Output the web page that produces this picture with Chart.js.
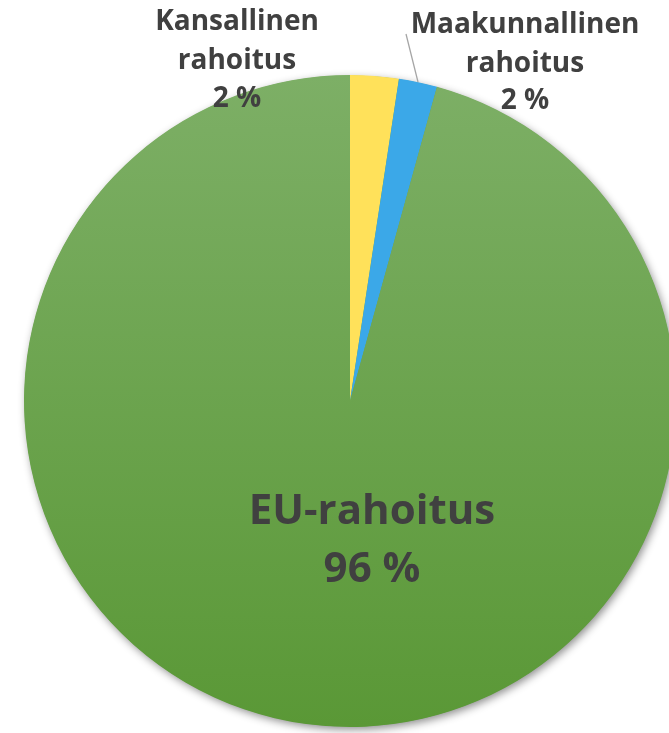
<!DOCTYPE html>
<html>
<head>
<meta charset="utf-8">
<script src="https://cdn.jsdelivr.net/npm/chart.js@4/dist/chart.umd.min.js"></script>
<style>
html,body{margin:0;padding:0;background:#fff;overflow:hidden;}
#wrap{position:relative;width:700px;height:733px;}
</style>
</head>
<body>
<div id="wrap"><canvas id="c"></canvas></div>
<script>
const categories = ["Kansallinen rahoitus", "Maakunnallinen rahoitus", "EU-rahoitus"];
const values = [2.4, 1.9, 95.7];
const percentLabels = ["2 %", "2 %", "96 %"];
const colors = ["#FFE15A", "#3BA8E8", null];

const textColor = "#404040";
const FONT = "'Open Sans', Lato, sans-serif";

const shadowPlugin = {
  id: 'shadowPlugin',
  beforeDatasetsDraw(chart) {
    const arc = chart.getDatasetMeta(0).data[0];
    if (!arc) return;
    const ctx = chart.ctx;
    ctx.save();
    ctx.shadowColor = 'rgba(0,0,0,0.45)';
    ctx.shadowBlur = 9;
    ctx.shadowOffsetX = 2;
    ctx.shadowOffsetY = 3;
    ctx.fillStyle = '#6aa34b';
    ctx.beginPath();
    ctx.arc(arc.x, arc.y, arc.outerRadius - 0.5, 0, Math.PI * 2);
    ctx.fill();
    ctx.restore();
  }
};

const labelPlugin = {
  id: 'labelPlugin',
  afterDatasetsDraw(chart) {
    const meta = chart.getDatasetMeta(0);
    const a0 = meta.data[0];
    const cx = a0.x, cy = a0.y;
    const ctx = chart.ctx;
    ctx.save();
    ctx.fillStyle = textColor;
    ctx.textAlign = 'center';
    ctx.textBaseline = 'middle';
    ctx.strokeStyle = '#A6A6A6';
    ctx.lineWidth = 1.3;
    ctx.beginPath();
    ctx.moveTo(cx + 56, cy - 367);
    ctx.lineTo(cx + 68, cy - 319);
    ctx.stroke();

    const lines = (cat) => cat.split(' ');
    ctx.font = "bold 28px " + FONT;
    let l0 = lines(categories[0]);
    ctx.fillText(l0[0], cx - 113, cy - 379);
    ctx.fillText(l0[1], cx - 113, cy - 340);
    ctx.fillText(percentLabels[0], cx - 113, cy - 302);
    let l1 = lines(categories[1]);
    ctx.fillText(l1[0], cx + 175, cy - 376);
    ctx.fillText(l1[1], cx + 175, cy - 337);
    ctx.fillText(percentLabels[1], cx + 175, cy - 300);
    ctx.font = "bold 42px " + FONT;
    ctx.fillText(categories[2], cx + 22, cy + 111);
    ctx.fillText(percentLabels[2], cx + 22, cy + 169);
    ctx.restore();
  }
};

new Chart(document.getElementById('c'), {
  type: 'pie',
  data: {
    labels: categories,
    datasets: [{
      data: values,
      borderWidth: 0,
      backgroundColor: (ctx) => {
        const i = ctx.dataIndex;
        if (colors[i]) return colors[i];
        const area = ctx.chart.chartArea;
        if (!area) return '#6aa34b';
        const g = ctx.chart.ctx.createLinearGradient(0, area.top, 0, area.bottom);
        g.addColorStop(0, '#7DAF66');
        g.addColorStop(1, '#5A9836');
        return g;
      }
    }]
  },
  options: {
    responsive: true,
    maintainAspectRatio: false,
    animation: false,
    layout: { padding: { left: 24, right: 24, top: 75, bottom: 6 } },
    plugins: {
      legend: { display: false },
      tooltip: { enabled: false }
    }
  },
  plugins: [shadowPlugin, labelPlugin]
});
</script>
</body>
</html>
